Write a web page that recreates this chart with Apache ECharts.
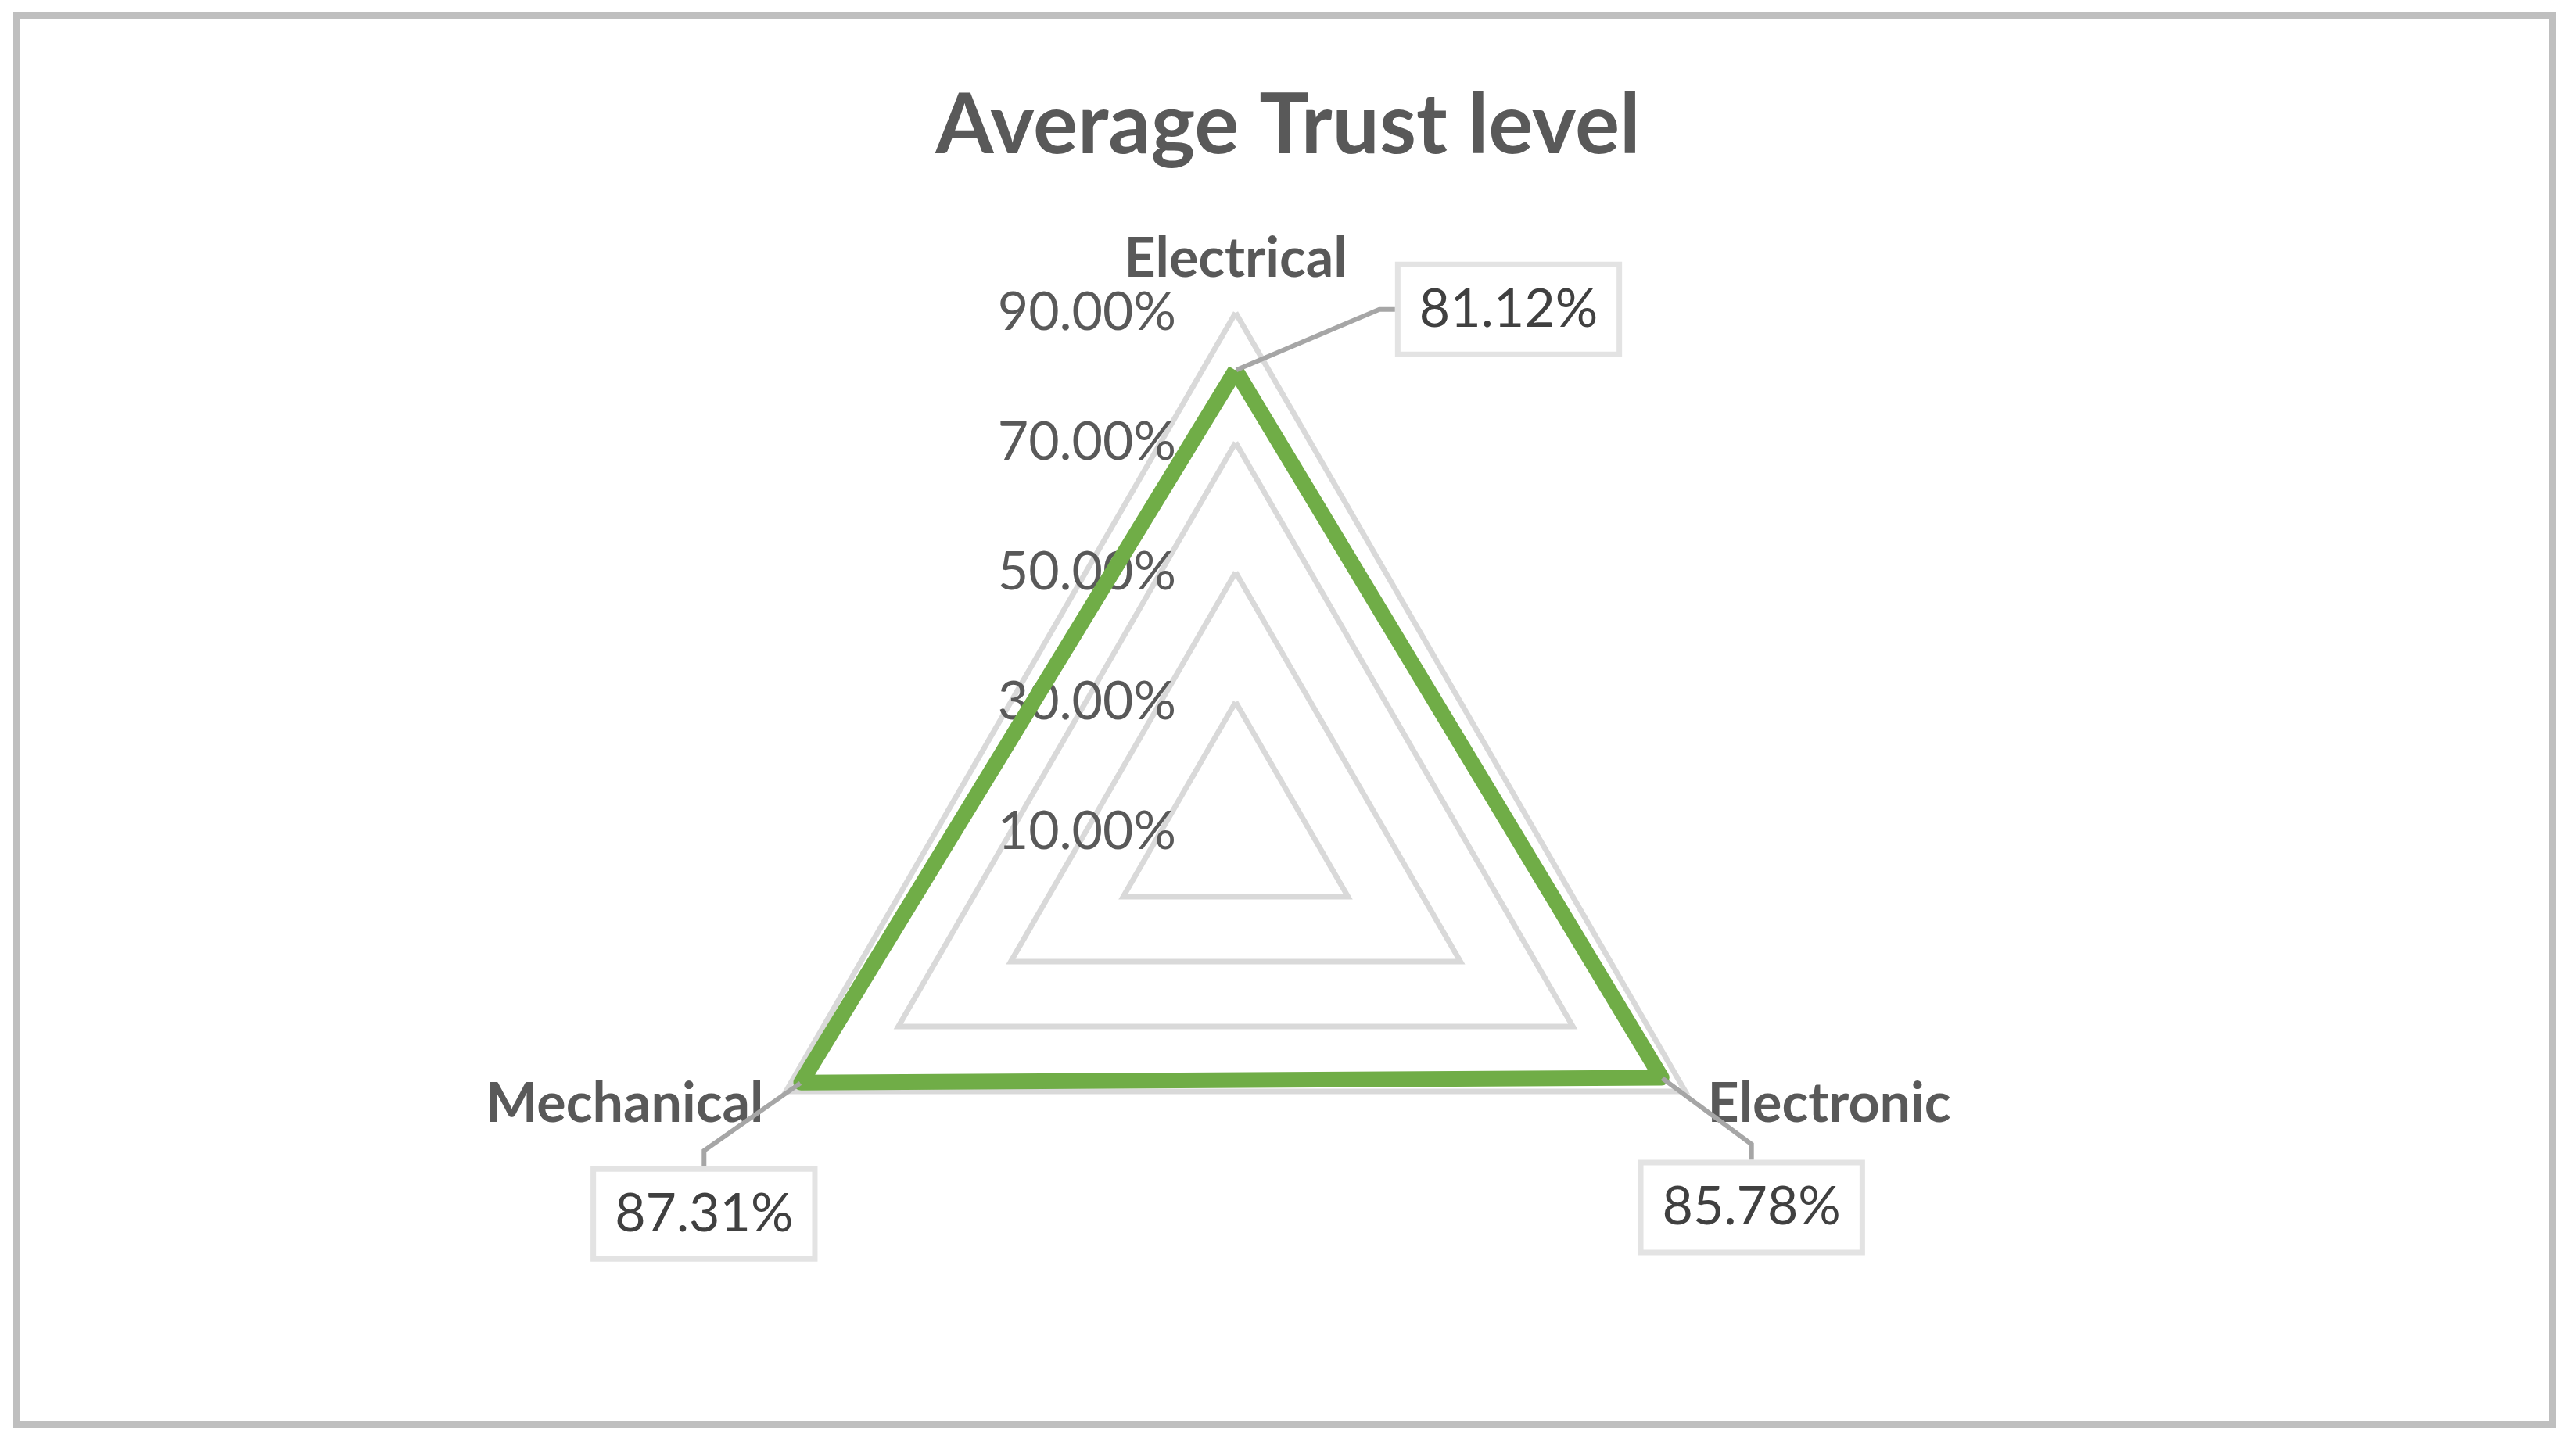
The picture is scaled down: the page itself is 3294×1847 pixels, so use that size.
<!DOCTYPE html>
<html>
<head>
<meta charset="utf-8">
<title>Average Trust level</title>
<script src="https://cdn.jsdelivr.net/npm/echarts@6/dist/echarts.min.js"></script>
<style>
  html, body { margin: 0; padding: 0; background: #fff; }
  .chart-frame {
    position: absolute; left: 16px; top: 15px;
    width: 3253px; height: 1811px;
    box-sizing: border-box; border: 9px solid #bfbfbf;
  }
  .trust-chart { position: absolute; left: 0; top: 0; width: 3294px; height: 1847px; }
</style>
</head>
<body>
<div class="chart-frame"></div>
<div class="trust-chart" id="trustchart"></div>
<script>
// categories go anticlockwise in echarts, so Electrical, Mechanical, Electronic
const indicatorNames = ["Electrical", "Mechanical", "Electronic"];
const trustValues = [81.12, 87.31, 85.78];
// axis tick values (percent)
const tickValues = [10, 30, 50, 70, 90];

const centerX = 1580;
const centerY = 1064;

const trustChart = echarts.init(document.getElementById("trustchart"));

const trustOption = {
  animation: false,
  title: {
    text: "Average Trust level",
    left: "center",
    top: 108,
    padding: 0,
    textStyle: {
      fontFamily: "Lato",
      fontSize: 107,
      fontWeight: "bold",
      color: "#595959",
    },
  },
  radar: {
    center: [centerX, centerY],
    radius: 664,
    startAngle: 90,
    shape: "polygon",
    splitNumber: tickValues.length - 1,
    axisName: {
      color: "#595959",
      fontFamily: "Lato",
      fontSize: 70,
      fontWeight: "bold",
    },
    nameGap: 33,
    axisLine: { show: false },
    axisTick: { show: false },
    axisLabel: { show: false },
    splitArea: { show: false },
    splitLine: {
      lineStyle: { color: "#d9d9d9", width: 7 },
    },
    indicator: indicatorNames.map((name, i) => {
      const ind = {
        name: name,
        min: tickValues[0],
        max: tickValues[tickValues.length - 1],
      };
      // only the vertical axis carries tick labels
      if (i === 0) {
        ind.axisLabel = {
          show: true,
          margin: 76,
          fontFamily: "Lato",
          fontSize: 68,
          color: "#595959",
          formatter: (v) => Number(v).toFixed(2) + "%",
        };
      }
      return ind;
    }),
  },
  series: [
    {
      type: "radar",
      symbol: "circle",
      symbolSize: 2,
      itemStyle: { color: "#70ad47" },
      lineStyle: { color: "#70ad47", width: 20 },
      label: {
        show: true,
        position: "inside",
        formatter: (p) => p.value.toFixed(2) + "%",
        fontFamily: "Lato",
        fontSize: 68,
        color: "#404040",
        backgroundColor: "#fff",
        borderColor: "#e3e3e3",
        borderWidth: 7,
        padding: [22, 24, 18, 24],
      },
      labelLine: {
        show: true,
        length2: 20,
        lineStyle: { color: "#a6a6a6", width: 6 },
      },
      labelLayout: (params) => {
        const r = params.rect;
        const px = r.x + r.width / 2;
        const py = r.y + r.height / 2;
        if (py < centerY - 200) {
          return { dx: 349, dy: -78 };
        }
        if (px < centerX) {
          return { dx: -124, dy: 168 };
        }
        return { dx: 115, dy: 166 };
      },
      data: [
        {
          value: trustValues,
          name: "Average Trust level",
        },
      ],
    },
  ],
};

trustChart.setOption(trustOption);
</script>
</body>
</html>
